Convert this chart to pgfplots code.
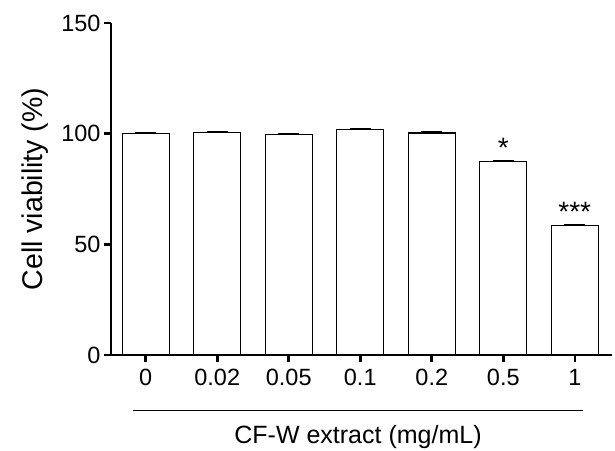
\documentclass[border=0pt]{standalone}
\usepackage{fontspec}
\setmainfont{Liberation Sans}
\usepackage{pgfplots}
\pgfplotsset{compat=1.18}
\usepackage{pgfplotstable}

\pgfplotstableread{
x  y      err  lab
0  100.0  0.3  {}
1  100.6  0.3  {}
2  99.7   0.3  {}
3  101.8  0.3  {}
4  100.3  0.3  {}
5  87.5   0.3  *
6  58.4   0.3  ***
}\viability

\begin{document}
\begin{tikzpicture}
\begin{axis}[
    at={(0,0)}, anchor=south west,
    scale only axis,
    width=501pt, height=332pt,
    xmin=-0.485, xmax=6.52,
    ymin=0, ymax=150,
    axis x line*=bottom, axis y line*=left,
    axis line style={line width=2.6pt},
    clip=false,
    ybar, bar width=47pt, bar shift=0pt,
    xtick={0,...,6},
    xticklabels={0,0.02,0.05,0.1,0.2,0.5,1},
    ytick={0,50,100,150},
    minor tick num=0,
    tick align=outside,
    major tick length=7pt,
    tick style={line width=2.6pt, black},
    /pgf/number format/assume math mode=true,
    tick label style={font=\fontsize{23.5}{28}\selectfont},
    xticklabel style={yshift=-4pt},
    xlabel={CF-W extract (mg/mL)},
    ylabel={Cell viability (\%)},
    every axis x label/.style={at={(axis description cs:0.493,-0.247)}, anchor=center, font=\fontsize{25}{30}\selectfont},
    every axis y label/.style={at={(axis description cs:-0.152,0.5)}, rotate=90, anchor=center, font=\fontsize{28.5}{33}\selectfont},
    nodes near coords,
    point meta=explicit symbolic,
    every node near coord/.append style={anchor=base, yshift=4pt, font=\fontsize{28}{32}\selectfont},
]
\addplot[fill=white, draw=black, line width=1.2pt,
    error bars/.cd, y dir=plus, y explicit,
    error bar style={line width=1.6pt},
    error mark options={rotate=90, line width=1.8pt, mark size=10.5pt}]
    table[x=x, y=y, y error=err, meta=lab] {\viability};
\draw[line width=1.2pt] (axis description cs:0.0439,-0.168) -- (axis description cs:0.942,-0.168);
\end{axis}
\pgfresetboundingbox
\path[use as bounding box] (-111pt,-95pt) rectangle (504pt,355pt);
\end{tikzpicture}
\end{document}
